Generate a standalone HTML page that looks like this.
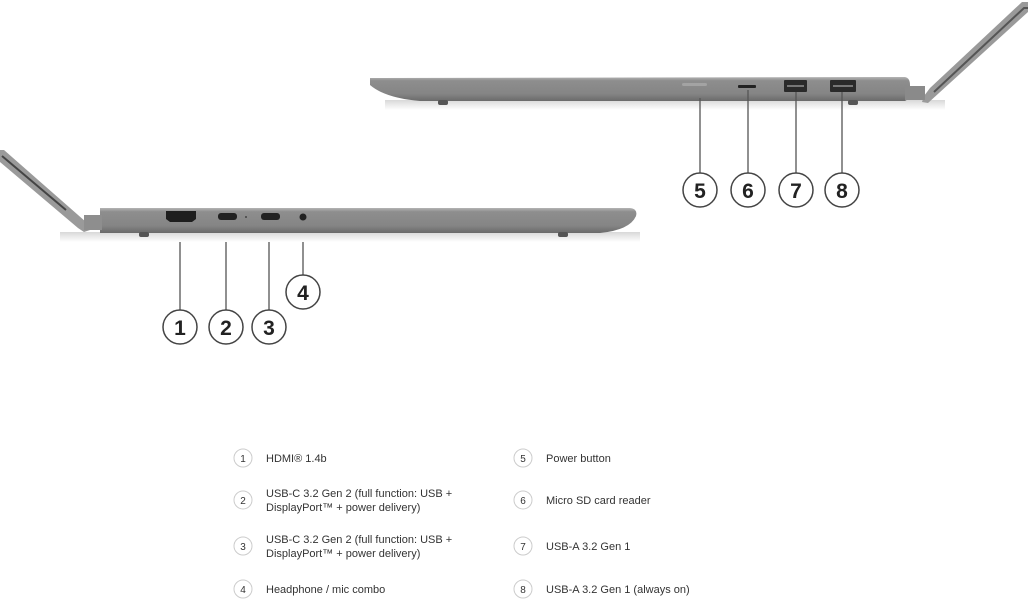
<!DOCTYPE html>
<html><head><meta charset="utf-8"><style>
body{margin:0;background:#fff;width:1028px;height:600px;overflow:hidden;font-family:"Liberation Sans",sans-serif}
</style></head><body>
<svg width="1028" height="600" viewBox="0 0 1028 600" xmlns="http://www.w3.org/2000/svg">
<defs>
<linearGradient id="bd" x1="0" y1="0" x2="0" y2="1">
<stop offset="0" stop-color="#b4b4b4"/><stop offset="0.15" stop-color="#8e8e8e"/><stop offset="0.7" stop-color="#858585"/><stop offset="1" stop-color="#6a6a6a"/></linearGradient>
<linearGradient id="sh" x1="0" y1="0" x2="0" y2="1"><stop offset="0" stop-color="#d8d8d8"/><stop offset="1" stop-color="#fff"/></linearGradient>
</defs>
<!-- upper laptop -->
<rect x="385" y="100" width="560" height="10" fill="url(#sh)"/>
<path d="M1028,2 L1022,2 L930,88 L924,96 L922,102 L928,103 L1028,12 Z" fill="#9a9a9a"/>
<path d="M1028,8 L1024,8 L934,92" stroke="#555" stroke-width="2" fill="none"/>
<path d="M370,78 L905,77 Q910,78 910,85 L910,98 L905,101 L420,101 Q385,98 370,85 Z" fill="url(#bd)"/>
<rect x="905" y="86" width="20" height="14" fill="#8a8a8a"/>
<rect x="438" y="100" width="10" height="5" rx="2" fill="#555"/>
<rect x="848" y="100" width="10" height="5" rx="2" fill="#555"/>
<rect x="682" y="83" width="25" height="3" rx="1.5" fill="#a3a3a3"/>
<rect x="738" y="85" width="18" height="3" rx="1" fill="#222"/>
<rect x="784" y="80" width="23" height="12" rx="1" fill="#2a2a2a"/><rect x="787" y="85" width="17" height="2" fill="#777"/>
<rect x="830" y="80" width="26" height="12" rx="1" fill="#2a2a2a"/><rect x="833" y="85" width="20" height="2" fill="#777"/>
<g stroke="#555" stroke-width="1.3" fill="none">
<line x1="700" y1="98" x2="700" y2="173"/><line x1="748" y1="90" x2="748" y2="173"/>
<line x1="796" y1="92" x2="796" y2="173"/><line x1="842" y1="92" x2="842" y2="173"/>
<line x1="180" y1="222" x2="180" y2="310"/><line x1="226" y1="220" x2="226" y2="310"/>
<line x1="269" y1="220" x2="269" y2="310"/><line x1="303" y1="219" x2="303" y2="275"/>
</g>
<g stroke="#444" stroke-width="1.5" fill="#fff">
<circle cx="700" cy="190" r="17"/><circle cx="748" cy="190" r="17"/><circle cx="796" cy="190" r="17"/><circle cx="842" cy="190" r="17"/>
<circle cx="180" cy="327" r="17"/><circle cx="226" cy="327" r="17"/><circle cx="269" cy="327" r="17"/><circle cx="303" cy="292" r="17"/>
</g>
<g font-family="Liberation Sans,sans-serif" font-weight="bold" font-size="21" text-anchor="middle" fill="#222">
<text x="700" y="198">5</text><text x="748" y="198">6</text><text x="796" y="198">7</text><text x="842" y="198">8</text>
<text x="180" y="335">1</text><text x="226" y="335">2</text><text x="269" y="335">3</text><text x="303" y="300">4</text>
</g>
<!-- lower laptop -->
<rect x="60" y="232" width="580" height="10" fill="url(#sh)"/>
<path d="M0,150 L4,150 L86,222 L90,230 L84,232 L78,228 L0,162 Z" fill="#9a9a9a"/>
<path d="M2,156 L66,210" stroke="#444" stroke-width="2"/>
<path d="M100,208 L630,208 Q638,209 636,216 Q630,230 600,233 L100,233 Z" fill="url(#bd)"/>
<rect x="84" y="215" width="18" height="15" fill="#8e8e8e"/>
<rect x="139" y="232" width="10" height="5" rx="2" fill="#555"/>
<rect x="558" y="232" width="10" height="5" rx="2" fill="#555"/>
<path d="M166,211 L196,211 L196,219 L192,222 L170,222 L166,219 Z" fill="#1e1e1e"/>
<rect x="218" y="213" width="19" height="7" rx="3" fill="#222"/>
<circle cx="246" cy="217" r="1" fill="#444"/>
<rect x="261" y="213" width="19" height="7" rx="3" fill="#222"/>
<circle cx="303" cy="217" r="3.5" fill="#222"/>
<!-- legend -->
<g stroke="#ccc" stroke-width="1" fill="#fff">
<circle cx="243" cy="458" r="9"/><circle cx="243" cy="500" r="9"/><circle cx="243" cy="546" r="9"/><circle cx="243" cy="589" r="9"/>
<circle cx="523" cy="458" r="9"/><circle cx="523" cy="500" r="9"/><circle cx="523" cy="546" r="9"/><circle cx="523" cy="589" r="9"/>
</g>
<g font-family="Liberation Sans,sans-serif" font-size="11" fill="#333">
<g text-anchor="middle" font-size="10">
<text x="243" y="462">1</text><text x="243" y="504">2</text><text x="243" y="550">3</text><text x="243" y="593">4</text>
<text x="523" y="462">5</text><text x="523" y="504">6</text><text x="523" y="550">7</text><text x="523" y="593">8</text>
</g>
<text x="266" y="462">HDMI® 1.4b</text>
<text x="266" y="497">USB-C 3.2 Gen 2 (full function: USB +</text>
<text x="266" y="511">DisplayPort™ + power delivery)</text>
<text x="266" y="543">USB-C 3.2 Gen 2 (full function: USB +</text>
<text x="266" y="557">DisplayPort™ + power delivery)</text>
<text x="266" y="593">Headphone / mic combo</text>
<text x="546" y="462">Power button</text>
<text x="546" y="504">Micro SD card reader</text>
<text x="546" y="550">USB-A 3.2 Gen 1</text>
<text x="546" y="593">USB-A 3.2 Gen 1 (always on)</text>
</g>
</svg>
</body></html>
